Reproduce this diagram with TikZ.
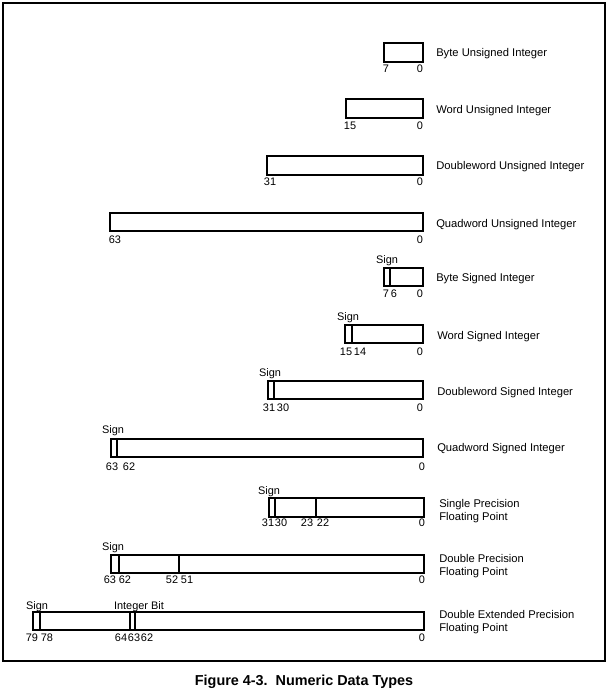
\documentclass[tikz,border=0pt]{standalone}
\usepackage{fontspec}
\setmainfont{Liberation Sans}
\begin{document}
\begin{tikzpicture}[x=0.75pt,y=-0.75pt,
  fld/.style={draw=black,line width=2.1pt},
  dv/.style={draw=black,line width=1.3pt},
  num/.style={inner sep=0pt,font=\fontsize{8.2}{9}\selectfont},
  sg/.style={num,yshift=-1.5pt},
  nm/.style={anchor=west,inner sep=0pt,align=left,yshift=-1pt,font=\fontsize{8.4}{9.5}\selectfont},
  frm/.style={draw=black,line width=1.7pt}]
\useasboundingbox (0,0) rectangle (611,695);
\draw[frm] (3,3) rectangle (605,661);
% 1 Byte Unsigned
\draw[fld] (384,43) rectangle (423,62);
\node[num] (bu7) at (386,69) {7};
\node[num] (bu0) at (420,69) {0};
\node[nm] (bun) at (436,52) {Byte Unsigned Integer};
% 2 Word Unsigned
\draw[fld] (346,99) rectangle (423,118);
\node[num] (wu15) at (350,126) {15};
\node[num] (wu0) at (420,126) {0};
\node[nm] (wun) at (436,109) {Word Unsigned Integer};
% 3 Doubleword Unsigned
\draw[fld] (267,156) rectangle (423,175);
\node[num] (du31) at (270,182) {31};
\node[num] (du0) at (420,182) {0};
\node[nm] (dun) at (436,165) {Doubleword Unsigned Integer};
% 4 Quadword Unsigned
\draw[fld] (110,213) rectangle (423,231);
\node[num] (qu63) at (115,240) {63};
\node[num] (qu0) at (420,240) {0};
\node[nm] (qun) at (436,223) {Quadword Unsigned Integer};
% 5 Byte Signed
\draw[fld] (384,268) rectangle (423,286);
\draw[dv] (390,268) -- (390,286);
\node[sg] (bss) at (387,259) {Sign};
\node[num] (bs7) at (386,294) {7};
\node[num] (bs6) at (394,294) {6};
\node[num] (bs0) at (420,294) {0};
\node[nm] (bsn) at (436,277) {Byte Signed Integer};
% 6 Word Signed
\draw[fld] (345,325) rectangle (423,343);
\draw[dv] (352,325) -- (352,343);
\node[sg] (wss) at (348,316) {Sign};
\node[num] (ws15) at (346,352) {15};
\node[num] (ws14) at (360,352) {14};
\node[num] (ws0) at (420,352) {0};
\node[nm] (wsn) at (437,335) {Word Signed Integer};
% 7 Doubleword Signed
\draw[fld] (268,381) rectangle (423,399);
\draw[dv] (274,381) -- (274,399);
\node[sg] (dss) at (270,372) {Sign};
\node[num] (ds31) at (269,408) {31};
\node[num] (ds30) at (283,408) {30};
\node[num] (ds0) at (420,408) {0};
\node[nm] (dsn) at (437,391) {Doubleword Signed Integer};
% 8 Quadword Signed
\draw[fld] (111,439) rectangle (423,457);
\draw[dv] (117,439) -- (117,457);
\node[sg] (qss) at (113,429) {Sign};
\node[num] (qs63) at (112,467) {63};
\node[num] (qs62) at (129,467) {62};
\node[num] (qs0) at (422,467) {0};
\node[nm] (qsn) at (437,447) {Quadword Signed Integer};
% 9 Single Precision
\draw[fld] (269,498) rectangle (424,517);
\draw[dv] (275,498) -- (275,517);
\draw[dv] (316,498) -- (316,517);
\node[sg] (sps) at (269,490) {Sign};
\node[num] (sp31) at (268,523) {31};
\node[num] (sp30) at (281,523) {30};
\node[num] (sp23) at (307,523) {23};
\node[num] (sp22) at (323,523) {22};
\node[num] (sp0) at (422,523) {0};
\node[nm] (spn) at (439,510) {Single Precision\\Floating Point};
% 10 Double Precision
\draw[fld] (111,555) rectangle (424,573);
\draw[dv] (119,555) -- (119,573);
\draw[dv] (179,555) -- (179,573);
\node[sg] (dps) at (113,546) {Sign};
\node[num] (dp63) at (110,580) {63};
\node[num] (dp62) at (125,580) {62};
\node[num] (dp52) at (172,580) {52};
\node[num] (dp51) at (187,580) {51};
\node[num] (dp0) at (422,580) {0};
\node[nm] (dpn) at (439,565) {Double Precision\\Floating Point};
% 11 Double Extended Precision
\draw[fld] (33,612) rectangle (424,630);
\draw[dv] (40,612) -- (40,630);
\draw[dv] (130,612) -- (130,630);
\draw[dv] (135,612) -- (135,630);
\node[sg] (des) at (37,605) {Sign};
\node[sg] (dei) at (139,605) {Integer Bit};
\node[num] (de79) at (32,638) {79};
\node[num] (de78) at (47,638) {78};
\node[num] (de64) at (121,638) {64};
\node[num] (de63) at (134,638) {63};
\node[num] (de62) at (147,638) {62};
\node[num] (de0) at (422,638) {0};
\node[nm] (den) at (439,621) {Double Extended Precision\\Floating Point};
% caption
\node[inner sep=0pt,font=\fontsize{10.8}{12}\selectfont\bfseries] (cap) at (304,682) {Figure 4-3.\ \ Numeric Data Types};
\end{tikzpicture}
\end{document}
